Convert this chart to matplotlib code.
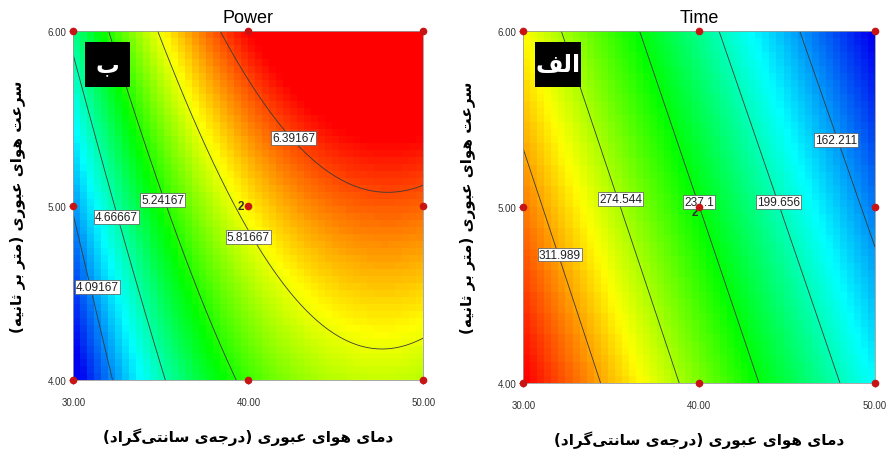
import numpy as np
import matplotlib
matplotlib.use("Agg")
import matplotlib.pyplot as plt
from matplotlib.colors import LinearSegmentedColormap
from matplotlib.patches import Rectangle

# design points (face centred CCD)
temp_levels = [30.0, 40.0, 50.0]
speed_levels = [4.0, 5.0, 6.0]
center_reps = 2

# Power: contour levels and points (T, V)
power_levels = [4.09167, 4.66667, 5.24167, 5.81667, 6.39167]
power_T = [30.0, 30.97, 32.29,
           30.0, 32.67, 35.34,
           32.1, 35.34, 38.38, 39.14,
           34.86, 38.38, 40.0, 42.19, 44.1, 46.0, 47.52, 50.0,
           38.57, 40.29, 42.19, 44.1, 46.0, 47.52, 50.0]
power_V = [4.93, 4.53, 4.0,
           5.87, 4.88, 4.0,
           6.0, 4.95, 4.19, 4.0,
           6.0, 5.12, 4.88, 4.61, 4.40, 4.23, 4.13, 4.21,
           5.94, 5.64, 5.41, 5.24, 5.11, 5.07, 5.14]
power_val = ([4.09167] * 3 + [4.66667] * 3 + [5.24167] * 4
             + [5.81667] * 8 + [6.39167] * 7)
power_label_pos = [(31.37, 4.534), (32.48, 4.937), (35.1, 5.034),
                   (40.0, 4.82), (42.57, 5.385)]
power_color_range = (3.7, 6.6)

# Time
time_levels = [311.989, 274.544, 237.1, 199.656, 162.211]
time_T = [30.0, 31.95, 34.45,
          32.18, 35.55, 38.91,
          36.64, 40.0, 43.37,
          41.18, 44.55, 47.92,
          45.64, 47.78, 50.0]
time_V = [5.31, 4.73, 4.0,
          6.0, 5.0, 4.0,
          6.0, 5.0, 4.0,
          6.0, 5.0, 4.0,
          6.0, 5.38, 4.83]
time_val = ([311.989] * 3 + [274.544] * 3 + [237.1] * 3
            + [199.656] * 3 + [162.211] * 3)
time_label_pos = [(32.09, 4.73), (35.54, 5.045), (40.0, 5.03),
                  (44.5, 5.03), (47.78, 5.382)]
time_color_range = None  # full range of the surface

xlabel_fa = "دمای هوای عبوری (درجه\u200cی سانتی\u200cگراد)"
ylabel_fa = "سرعت هوای عبوری (متر بر ثانیه)"

# --- tiny arabic/persian shaper (matplotlib has no shaping / bidi) ---
DUAL = {
    "ب": (0xFE8F, 0xFE90, 0xFE91, 0xFE92), "ت": (0xFE95, 0xFE96, 0xFE97, 0xFE98),
    "ث": (0xFE99, 0xFE9A, 0xFE9B, 0xFE9C), "ج": (0xFE9D, 0xFE9E, 0xFE9F, 0xFEA0),
    "س": (0xFEB1, 0xFEB2, 0xFEB3, 0xFEB4), "ع": (0xFEC9, 0xFECA, 0xFECB, 0xFECC),
    "ف": (0xFED1, 0xFED2, 0xFED3, 0xFED4), "ل": (0xFEDD, 0xFEDE, 0xFEDF, 0xFEE0),
    "م": (0xFEE1, 0xFEE2, 0xFEE3, 0xFEE4), "ن": (0xFEE5, 0xFEE6, 0xFEE7, 0xFEE8),
    "ه": (0xFEE9, 0xFEEA, 0xFEEB, 0xFEEC), "ی": (0xFBFC, 0xFBFD, 0xFBFE, 0xFBFF),
    "گ": (0xFB92, 0xFB93, 0xFB94, 0xFB95),
}
RIGHT = {"ا": (0xFE8D, 0xFE8E), "د": (0xFEA9, 0xFEAA),
         "ر": (0xFEAD, 0xFEAE), "و": (0xFEED, 0xFEEE)}


def shape(text):
    out = []
    for i, ch in enumerate(text):
        forms = DUAL.get(ch) or RIGHT.get(ch)
        if forms is None:
            out.append(ch)
            continue
        prev = text[i - 1] if i > 0 else ""
        nxt = text[i + 1] if i + 1 < len(text) else ""
        jp = prev in DUAL
        jn = ch in DUAL and (nxt in DUAL or nxt in RIGHT)
        if jp and jn:
            out.append(chr(forms[3]))
        elif jp:
            out.append(chr(forms[1]))
        elif jn:
            out.append(chr(forms[2]))
        else:
            out.append(chr(forms[0]))
    vis = "".join(out).replace("\u200c", "")[::-1]
    return vis.translate(str.maketrans("()", ")("))


def fit_quadratic(T, V, val):
    A = (np.asarray(T) - 40.0) / 10.0
    B = np.asarray(V) - 5.0
    X = np.column_stack([np.ones_like(A), A, B, A * B, A ** 2, B ** 2])
    coef, *_ = np.linalg.lstsq(X, np.asarray(val), rcond=None)
    return coef


def model(coef, T, V):
    A = (T - 40.0) / 10.0
    B = V - 5.0
    return (coef[0] + coef[1] * A + coef[2] * B + coef[3] * A * B
            + coef[4] * A ** 2 + coef[5] * B ** 2)


de_cmap = LinearSegmentedColormap.from_list(
    "de", ["#0000f0", "#00ffff", "#00ff00", "#ffff00", "#ff0000"])

plt.rcParams["font.family"] = ["Liberation Sans", "DejaVu Sans"]

fig = plt.figure(figsize=(8.91, 4.52), dpi=100)
ax_p = fig.add_axes([0.0823, 0.156, 0.393, 0.774])
ax_t = fig.add_axes([0.5873, 0.150, 0.3947, 0.780])


def draw_panel(ax, title, badge, coef, levels, label_pos, crange,
               center_dx, center_dy):
    edges_x = np.linspace(30, 50, 51)
    edges_y = np.linspace(4, 6, 51)
    cx = (edges_x[:-1] + edges_x[1:]) / 2
    cy = (edges_y[:-1] + edges_y[1:]) / 2
    Z = model(coef, *np.meshgrid(cx, cy))
    vmin, vmax = crange if crange else (Z.min(), Z.max())
    ax.pcolormesh(edges_x, edges_y, Z, cmap=de_cmap, shading="flat",
                  vmin=vmin, vmax=vmax)
    fx = np.linspace(30, 50, 300)
    fy = np.linspace(4, 6, 300)
    FZ = model(coef, *np.meshgrid(fx, fy))
    ax.contour(fx, fy, FZ, levels=sorted(levels), colors="#3a3a3a",
               linewidths=0.6)
    for lev, (lx, ly) in zip(levels, label_pos):
        ax.text(lx, ly, "{:g}".format(lev), fontsize=8.6, color="#222222",
                ha="center", va="center", zorder=5,
                bbox=dict(boxstyle="square,pad=0.08", fc="white",
                          ec="#555555", lw=0.5))
    gx, gy = np.meshgrid(temp_levels, speed_levels)
    ax.plot(gx.ravel(), gy.ravel(), "o", color="#c81414", ms=4.5,
            clip_on=False, zorder=6)
    ax.annotate(str(center_reps), (temp_levels[1], speed_levels[1]),
                xytext=(center_dx, center_dy), textcoords="offset points",
                ha="right", va="center", fontsize=8.5, fontweight="bold",
                color="#333333", zorder=4)
    ax.set_xlim(30, 50)
    ax.set_ylim(4, 6)
    ax.set_xticks(temp_levels)
    ax.set_yticks(speed_levels)
    ax.set_xticklabels(["{:.2f}".format(v) for v in temp_levels])
    ax.set_yticklabels(["{:.2f}".format(v) for v in speed_levels])
    ax.tick_params(axis="both", labelsize=7, colors="#333333", length=3,
                   width=0.6)
    ax.tick_params(axis="x", pad=9)
    ax.tick_params(axis="y", pad=2)
    for sp in ax.spines.values():
        sp.set_color("#9a9a9a")
        sp.set_linewidth(0.6)
    ax.set_title(title, fontsize=13, pad=6)
    ax.set_xlabel(shape(xlabel_fa), family="DejaVu Sans", fontweight="bold",
                  fontsize=11, va="center")
    ax.xaxis.set_label_coords(0.5, -0.16)
    ax.set_ylabel(shape(ylabel_fa), family="DejaVu Sans", fontweight="bold",
                  fontsize=11, va="center")
    ax.yaxis.set_label_coords(-0.158, 0.5)
    ax.add_patch(Rectangle((0.032, 0.840), 0.131, 0.128, transform=ax.transAxes,
                           fc="black", ec="none", zorder=8))
    ax.text(0.0975, 0.904, shape(badge), transform=ax.transAxes,
            family="DejaVu Sans", fontweight="bold", fontsize=17,
            color="white", ha="center", va="center", zorder=9)


power_coef = fit_quadratic(power_T, power_V, power_val)
time_coef = fit_quadratic(time_T, time_V, time_val)

draw_panel(ax_p, "Power", "ب", power_coef, power_levels, power_label_pos,
           power_color_range, -3, 0)
draw_panel(ax_t, "Time", "الف", time_coef, time_levels, time_label_pos,
           time_color_range, -1, -3.5)

fig.savefig("out.png", dpi=100)
